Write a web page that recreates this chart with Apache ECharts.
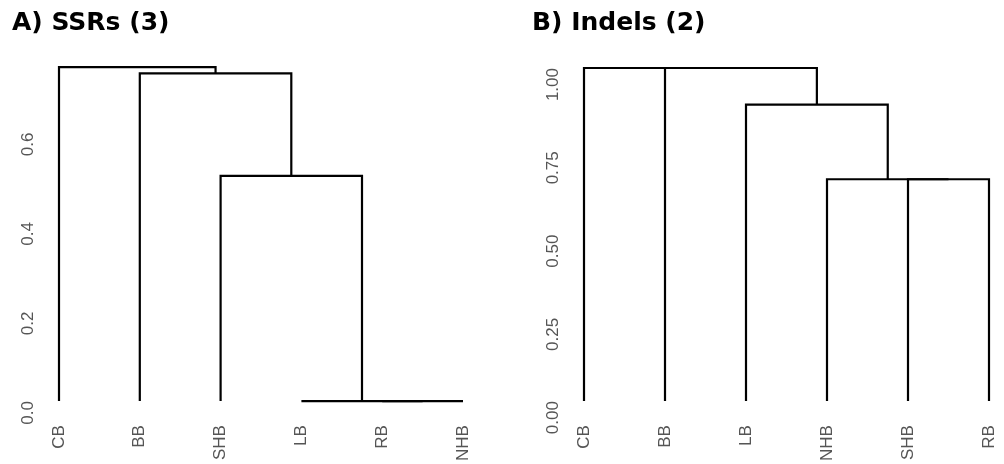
<!DOCTYPE html>
<html><head><meta charset="utf-8">
<script src="https://cdn.jsdelivr.net/npm/echarts@6/dist/echarts.min.js"></script>
<style>html,body{margin:0;padding:0;background:#fff}#c{width:1004px;height:464px}</style>
</head><body><div id="c"></div>
<script>
// Panel A: SSRs (3)
const leavesA = ['CB', 'BB', 'SHB', 'LB', 'RB', 'NHB'];
const mergeLeftA = ['RB', 'LB', 'SHB', 'BB', 'CB'];
const mergeRightA = ['NHB', 'm0', 'm1', 'm2', 'm3'];
const mergeHeightA = [0, 0, 0.503, 0.732, 0.746];
const yTicksA = [0, 0.2, 0.4, 0.6];

// Panel B: Indels (2)
const leavesB = ['CB', 'BB', 'LB', 'NHB', 'SHB', 'RB'];
const mergeLeftB = ['SHB', 'NHB', 'LB', 'BB', 'CB'];
const mergeRightB = ['RB', 'm0', 'm1', 'm2', 'm3'];
const mergeHeightB = [0.666, 0.666, 0.89, 1.0, 1.0];
const yTicksB = [0, 0.25, 0.5, 0.75, 1.0];

function buildU(leaves, lefts, rights, heights) {
  const pos = {};
  leaves.forEach((l, i) => { pos[l] = [i, 0]; });
  const out = [];
  for (let k = 0; k < lefts.length; k++) {
    const a = pos[lefts[k]], b = pos[rights[k]], h = heights[k];
    out.push([a[0], a[1], b[0], b[1], h]);
    pos['m' + k] = [(a[0] + b[0]) / 2, h];
  }
  return out;
}
const uA = buildU(leavesA, mergeLeftA, mergeRightA, mergeHeightA);
const uB = buildU(leavesB, mergeLeftB, mergeRightB, mergeHeightB);

function renderU(params, api) {
  const p1 = api.coord([api.value(0), api.value(1)]);
  const p2 = api.coord([api.value(0), api.value(4)]);
  const p3 = api.coord([api.value(2), api.value(4)]);
  const p4 = api.coord([api.value(2), api.value(3)]);
  return {
    type: 'polyline',
    shape: { points: [p1, p2, p3, p4] },
    style: { stroke: '#000', lineWidth: 2.2, fill: null, lineJoin: 'miter' }
  };
}

const labelFont = { color: '#555', fontSize: 17, fontFamily: 'Liberation Sans' };
function xAx(idx, leaves) {
  return {
    type: 'value', gridIndex: idx, min: 0, max: leaves.length - 1, interval: 1,
    axisLine: { show: false }, axisTick: { show: false }, splitLine: { show: false },
    axisLabel: Object.assign({ rotate: 90, margin: 24, formatter: v => leaves[Math.round(v)] || '' }, labelFont)
  };
}
function yAx(idx, ticks, max, dec) {
  const iv = ticks[1] - ticks[0];
  return {
    type: 'value', gridIndex: idx, min: 0, max: max, interval: iv,
    axisLine: { show: false }, axisTick: { show: false }, splitLine: { show: false },
    axisLabel: Object.assign({
      rotate: 90, align: 'right', verticalAlign: 'bottom', margin: 22,
      formatter: v => ticks.some(t => Math.abs(t - v) < 1e-9) ? v.toFixed(dec) : ''
    }, labelFont)
  };
}

const chart = echarts.init(document.getElementById('c'), null, { renderer: 'canvas' });
chart.setOption({
  animation: false,
  backgroundColor: '#fff',
  title: [
    { text: 'A) SSRs (3)', left: 7, top: 6, textStyle: { fontFamily: 'DejaVu Sans', fontWeight: 'bold', fontSize: 25, color: '#000' } },
    { text: 'B) Indels (2)', left: 527, top: 6, textStyle: { fontFamily: 'DejaVu Sans', fontWeight: 'bold', fontSize: 25, color: '#000' } }
  ],
  grid: [
    { left: 59, top: 43, width: 404, height: 360 },
    { left: 584, top: 68, width: 405, height: 335 }
  ],
  xAxis: [xAx(0, leavesA), xAx(1, leavesB)],
  yAxis: [yAx(0, yTicksA, 0.8, 1), yAx(1, yTicksB, 1.0, 2)],
  series: [
    { type: 'custom', xAxisIndex: 0, yAxisIndex: 0, data: uA, renderItem: renderU, encode: { x: [0, 2], y: [1, 3, 4] }, clip: false },
    { type: 'custom', xAxisIndex: 1, yAxisIndex: 1, data: uB, renderItem: renderU, encode: { x: [0, 2], y: [1, 3, 4] }, clip: false }
  ]
});
</script></body></html>
